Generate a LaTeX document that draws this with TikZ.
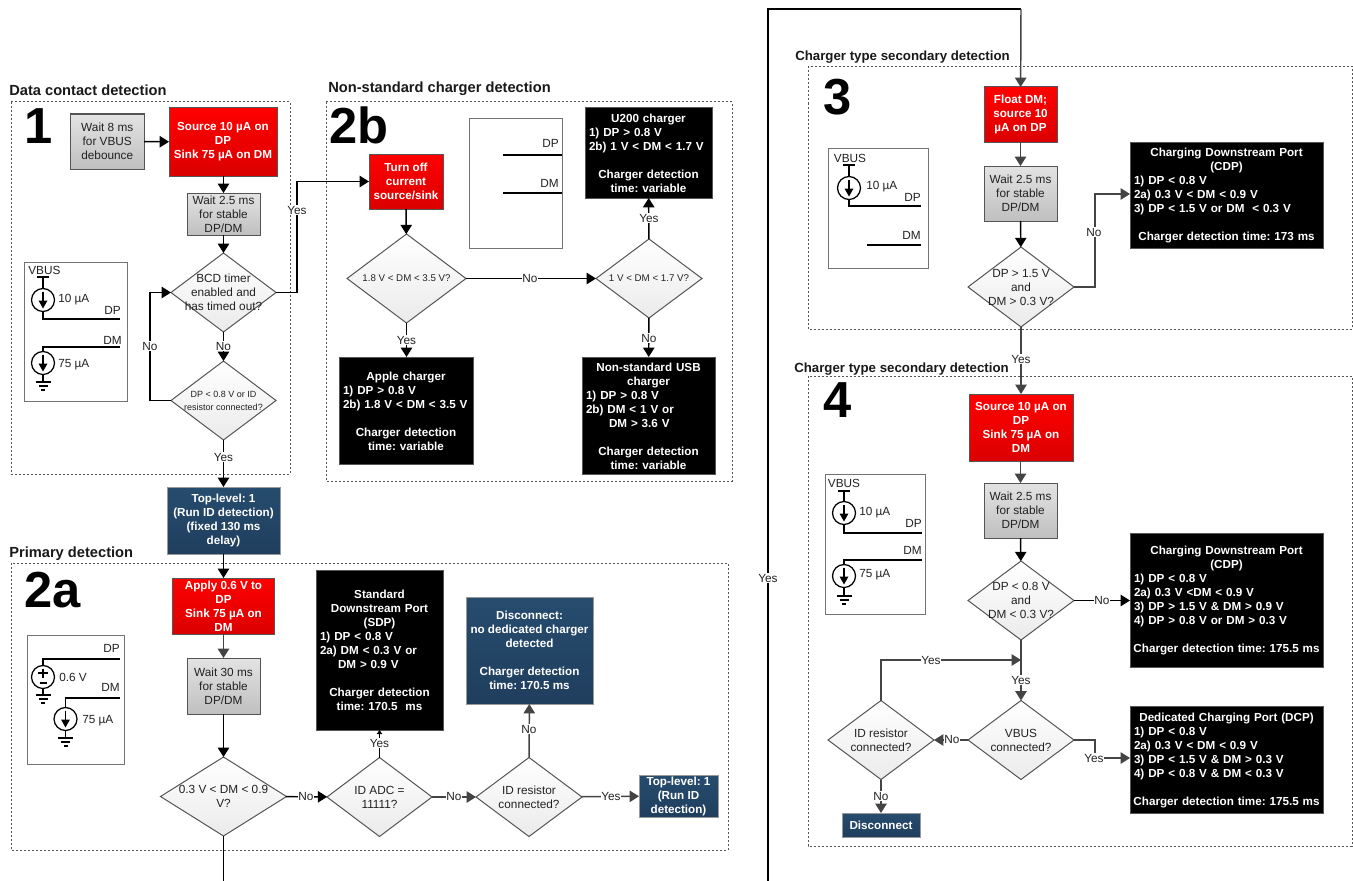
\documentclass[tikz,border=0pt]{standalone}
\usepackage{fontspec}
\setmainfont{Liberation Sans}
\usetikzlibrary{arrows.meta,shapes.geometric}
\definecolor{edge}{HTML}{555555}
\definecolor{ink}{HTML}{222222}
\definecolor{lineg}{HTML}{444444}
\newcommand\cc[1]{\par\hbox to\hsize{\hss#1\hss}}
\newcommand\lf[1]{\par\hbox to\hsize{#1\hss}}
\newcommand\gap{\par\vskip 10.5pt}
% box given by its corners in reference pixels
\newcommand\bx[7][]{\node[#1,minimum width={(#5-#3)*0.75pt},minimum height={(#6-#4)*0.75pt}] (#2) at ({(#3+#5)/2},{(#4+#6)/2}) {#7};}
% diamond with free-standing centred text
\newcommand\dia[7]{\node[dec,minimum width={#4*0.75pt},minimum height={#5*0.75pt},label={[dlab,name=#1t,#6]center:#7}] (#1) at (#2,#3) {};}
\newcommand\isrc[2]{\draw[wire,fill=white] (#1,#2) circle[radius=11.5];\draw[wire,-{Triangle[length=6pt,width=6.5pt]}] (#1,#2-8.5) -- (#1,#2+8.5);}
\newcommand\gnd[2]{\draw[wire] (#1-7.5,#2) -- (#1+7.5,#2) (#1-4.5,#2+4) -- (#1+4.5,#2+4) (#1-2,#2+8) -- (#1+2,#2+8);}
\tikzset{
 x=0.75pt,y=-0.75pt,
 base/.style={inner sep=0pt,outer sep=0pt,align=center,font=\fontsize{8.85pt}{10.5pt}\selectfont},
 redbox/.style={base,draw=edge,line width=0.75pt,top color=red,bottom color=red!86!black,text=white,font=\fontsize{8.75pt}{10.5pt}\selectfont\bfseries},
 greybox/.style={base,draw=edge,line width=0.75pt,top color=black!11,bottom color=black!25,text=ink},
 bluebox/.style={base,draw=edge!60,line width=0.75pt,top color={rgb,255:red,38;green,76;blue,110},bottom color={rgb,255:red,32;green,62;blue,94},text=white,font=\fontsize{8.75pt}{10.5pt}\selectfont\bfseries},
 blackbox/.style={base,draw=edge,line width=0.75pt,fill=black,text=white,align=left,font=\fontsize{8.75pt}{10.5pt}\selectfont\bfseries,execute at end node={\par\nointerlineskip\hrule height 3pt width 0pt}},
 dec/.style={shape=diamond,inner sep=0pt,outer sep=0pt,draw=edge,line width=0.75pt,top color=white,bottom color=black!8},
 dlab/.style={inner sep=0pt,outer sep=0pt,align=center,text=ink,font=\fontsize{8.85pt}{10.5pt}\selectfont},
 dsmall/.style={font=\fontsize{6.75pt}{9.7pt}\selectfont},
 dmid/.style={font=\fontsize{7.3pt}{9pt}\selectfont},
 frame/.style={draw=edge,line width=0.75pt,dash pattern=on 1.5pt off 1.5pt},
 panel/.style={draw=black!55,line width=0.75pt,fill=white},
 wire/.style={draw=black,line width=0.95pt},
 conn/.style={draw=black,line width=1.1pt,-{Triangle[length=7pt,width=8.5pt]}},
 conng/.style={draw=lineg,line width=1.1pt,-{Triangle[length=7pt,width=8.5pt]}},
 plain/.style={draw=black,line width=1.1pt},
 elab/.style={inner sep=0.6pt,fill=white,text=ink,font=\fontsize{8.85pt}{10.5pt}\selectfont},
 ttl/.style={anchor=west,inner sep=0pt,text=black!90,font=\fontsize{11pt}{12pt}\selectfont\bfseries},
 ttlb/.style={ttl,font=\fontsize{9.95pt}{12pt}\selectfont\bfseries},
 big/.style={anchor=west,inner sep=0pt,font=\fontsize{38pt}{40pt}\selectfont\bfseries},
 ctext/.style={inner sep=0pt,text=ink,font=\fontsize{8.85pt}{10.5pt}\selectfont},
 cl/.style={ctext,anchor=west},
 cr/.style={ctext,anchor=east},
}
\begin{document}
\frenchspacing
\begin{tikzpicture}
\useasboundingbox (0,0) rectangle (1353,881);
\fill[white] (0,0) rectangle (1353,881);
% frames
\draw[frame] (11,102) rectangle (290,474);
\draw[frame] (326,102) rectangle (732,481);
\draw[frame] (11,563) rectangle (728,850);
\draw[frame] (808,66.5) rectangle (1352,329);
\draw[frame] (808,376) rectangle (1352,846);
% titles
\node[ttl] (t1) at (9,90) {Data contact detection};
\node[ttl] (t2b) at (328,89) {Non-standard charger detection};
\node[ttl] (t2a) at (9,554) {Primary detection};
\node[ttlb] (t3) at (795,57) {Charger type secondary detection};
\node[ttlb] (t4) at (794,369) {Charger type secondary detection};
\node[big] (n1) at (24,126) {1};
\node[big] (n2a) at (24,590) {2a};
\node[big] (n2b) at (329,125) {2b};
\node[big] (n3) at (823,97) {3};
\node[big] (n4) at (823,400) {4};
% section 1
\bx[greybox]{w8}{70.5}{114}{144}{169}{Wait 8 ms\\for VBUS\\debounce}
\bx[redbox]{src1}{169}{108}{277}{176}{Source 10 µA on\\DP\\Sink 75 µA on DM}
\bx[greybox]{w1}{187}{193}{260}{235}{Wait 2.5 ms\\for stable\\DP/DM}
\dia{d1}{223.5}{292.5}{105}{79}{}{BCD timer\\enabled and\\has timed out?}
\dia{d2}{223.5}{400.5}{105}{79}{dsmall}{DP < 0.8 V or ID\\resistor connected?}
\bx[bluebox]{top1}{167}{487}{280}{554}{Top-level: 1\\(Run ID detection)\\(fixed 130 ms\\delay)}
% section 2a
\bx[redbox]{app}{172.5}{578}{274.5}{634}{Apply 0.6 V to\\DP\\Sink 75 µA on\\DM}
\bx[greybox]{w30}{187}{658}{260}{714}{Wait 30 ms\\for stable\\DP/DM}
\dia{d03}{223.5}{796.5}{126}{79}{}{0.3 V < DM < 0.9\\V?}
\bx[blackbox,text width=89.25pt]{sdp}{316}{570}{443}{730}{\cc{Standard}\cc{Downstream Port}\cc{(SDP)}\lf{1) DP < 0.8 V}\lf{2a) DM < 0.3 V or}\lf{\hspace{13.5pt}DM > 0.9 V}\gap\cc{Charger detection}\cc{time: 170.5~~ms}}
\dia{adc}{379.5}{797}{105}{79}{}{ID ADC =\\11111?}
\dia{res}{529}{797}{106}{79}{}{ID resistor\\connected?}
\bx[bluebox]{disc}{466}{597}{593}{704}{Disconnect:\\no dedicated charger\\detected\\[10.5pt]Charger detection\\time: 170.5 ms}
\bx[bluebox]{tl2}{639}{775}{718}{817}{Top-level: 1\\(Run ID\\detection)}
% section 2b
\bx[redbox]{off}{369}{154}{443}{209}{Turn off\\current\\source/sink}
\dia{d18}{406.5}{278.5}{119}{89}{dmid}{1.8 V < DM < 3.5 V?}
\dia{d1v}{649}{278.5}{106}{79}{dmid}{1 V < DM < 1.7 V?}
\bx[blackbox,text width=89.25pt]{u200}{585}{108}{712}{198}{\cc{U200 charger}\lf{1) DP > 0.8 V}\lf{2b) 1 V < DM < 1.7 V}\gap\cc{Charger detection}\cc{time: variable}}
\bx[blackbox,text width=94.5pt]{apple}{339}{357}{473}{464}{\cc{Apple charger}\lf{1) DP > 0.8 V}\lf{2b) 1.8 V < DM < 3.5 V}\gap\cc{Charger detection}\cc{time: variable}}
\bx[blackbox,text width=93.75pt]{nstd}{582}{357}{715}{474}{\cc{Non-standard USB}\cc{charger}\lf{1) DP > 0.8 V}\lf{2b) DM < 1 V or}\lf{\hspace{17.25pt}DM > 3.6 V}\gap\cc{Charger detection}\cc{time: variable}}
% section 3
\bx[redbox]{flt}{984}{87}{1057}{142}{Float DM;\\source 10\\µA on DP}
\bx[greybox]{w3}{984}{166}{1057}{221}{Wait 2.5 ms\\for stable\\DP/DM}
\dia{d3}{1021}{287}{106}{80}{}{DP > 1.5 V\\and\\DM > 0.3 V?}
\bx[blackbox,text width=138.75pt]{cdp1}{1130}{142}{1323}{248}{\cc{Charging Downstream Port}\cc{(CDP)}\lf{1) DP < 0.8 V}\lf{2a) 0.3 V < DM < 0.9 V}\lf{3) DP < 1.5 V or DM~~< 0.3 V}\gap\cc{Charger detection time: 173 ms}}
% section 4
\bx[redbox]{src4}{969}{394}{1073}{461}{Source 10 µA on\\DP\\Sink 75 µA on\\DM}
\bx[greybox]{w4}{984}{483}{1057}{538}{Wait 2.5 ms\\for stable\\DP/DM}
\dia{d4}{1021}{600.5}{106}{79}{}{DP < 0.8 V\\and\\DM < 0.3 V?}
\bx[blackbox,text width=138.75pt]{cdp2}{1130}{533}{1323}{667}{\cc{Charging Downstream Port}\cc{(CDP)}\lf{1) DP < 0.8 V}\lf{2a) 0.3 V <DM < 0.9 V}\lf{3) DP > 1.5 V \& DM > 0.9 V}\lf{4) DP > 0.8 V or DM > 0.3 V}\gap\cc{Charger detection time: 175.5 ms}}
\dia{vb}{1021}{740}{106}{79}{}{VBUS\\connected?}
\dia{idr}{881}{740}{106}{79}{}{ID resistor\\connected?}
\bx[bluebox]{dis2}{842}{813}{920}{837}{Disconnect}
\bx[blackbox,text width=138.75pt]{dcp}{1130}{706}{1323}{813}{\cc{Dedicated Charging Port (DCP)}\lf{1) DP < 0.8 V}\lf{2a) 0.3 V < DM < 0.9 V}\lf{3) DP < 1.5 V \& DM > 0.3 V}\lf{4) DP < 0.8 V \& DM < 0.3 V}\gap\cc{Charger detection time: 175.5 ms}}
% free ends
\coordinate (b1) at (223.5,881);
\coordinate (b2) at (768,881);
\coordinate (c3) at (1021,9);
\coordinate (j4) at (1021,660);
% connectors
\draw[conn] (w8) -- (src1);
\draw[conn] (src1.south -| w1.north) -- (w1);
\draw[conn] (w1) -- (d1);
\draw[conn] (d1) -- (d2);
\draw[conn] (d2.west) -- ++(-21,0) |- (d1.west);
\draw[conn] (d1.east) -- ++(21,0) |- (off.west);
\draw[conn] (d2) -- (top1);
\draw[conn] (top1.south -| app.north) -- (app);
\draw[conng] (app) -- (w30);
\draw[conn] (w30) -- (d03);
\draw[plain] (d03.south) -- (b1);
\draw[conn] (d03) -- (adc);
\draw[conng] (adc) -- (res);
\draw[conng] (res) -- (tl2);
\draw[draw=black,line width=1.1pt,-{Triangle[length=3pt,width=4pt]}] (adc) -- (sdp);
\draw[conng] (res) -- (disc);
\draw[conn] (off) -- (d18);
\draw[conn] (d18) -- (d1v);
\draw[conn] (d18) -- (apple.north -| d18.south);
\draw[conn] (d1v) -- (u200);
\draw[conn] (d1v) -- (nstd);
\draw[plain] (b2) |- (c3);
\draw[conng] (c3) -- (flt);
\draw[conng] (flt) -- (w3);
\draw[conn] (w3) -- (d3);
\draw[conng] (d3.east) -- ++(21,0) |- (cdp1.west |- 0,194);
\draw[conng] (d3.south) -- (src4.north -| d3.south);
\draw[conng] (src4.south -| w4.north) -- (w4);
\draw[conn] (w4) -- (d4);
\draw[conn] (d4) -- (d4 -| cdp2.west);
\draw[conng] (d4) -- (vb);
\draw[conng] (idr.north) |- (j4);
\draw[conng] (vb) -- (idr);
\draw[conng] (vb.east) -- ++(21,0) |- (dcp.west |- 0,758);
\draw[conng] (idr) -- (dis2);
% connector labels
\node[elab] (l1) at (297,210) {Yes};
\node[elab] (l2) at (150,346) {No};
\node[elab] (l3) at (223.5,346) {No};
\node[elab] (l4) at (223.5,457) {Yes};
\node[elab] (l5) at (306,796.5) {No};
\node[elab] (l6) at (454,796.5) {No};
\node[elab] (l7) at (611,796.5) {Yes};
\node[elab] (l8) at (379.5,743) {Yes};
\node[elab] (l9) at (529,729) {No};
\node[elab] (l10) at (406.5,340) {Yes};
\node[elab] (l11) at (530,278.5) {No};
\node[elab] (l12) at (649,218) {Yes};
\node[elab] (l13) at (649,338) {No};
\node[elab] (l14) at (768,578) {Yes};
\node[elab] (l15) at (1094,232) {No};
\node[elab] (l16) at (1021,359) {Yes};
\node[elab] (l17) at (1102,600.5) {No};
\node[elab] (l18) at (1021,680) {Yes};
\node[elab] (l19) at (931,660) {Yes};
\node[elab] (l20) at (952,739.5) {No};
\node[elab] (l21) at (1094,758) {Yes};
\node[elab] (l22) at (881,796) {No};
% circuit panel 1
\draw[panel] (24,262) rectangle (127,401);
\node[cl] (p1a) at (28,270) {VBUS};
\draw[wire] (37,277) -- (49,277) (43,277) -- (43,288.5);
\isrc{43}{300}
\draw[wire] (43,311.5) |- (120,319);
\node[cl] (p1b) at (58,300) {10 µA};
\node[cr] (p1c) at (121,310) {DP};
\node[cr] (p1d) at (122,340) {DM};
\draw[wire] (120,347) -| (43,351.5);
\isrc{43}{363}
\draw[wire] (43,374.5) -- (43,382);
\gnd{43}{382}
\node[cl] (p1e) at (58,365) {75 µA};
% circuit panel 2a
\draw[panel] (27,635) rectangle (124,764);
\node[cr] (p2a) at (120,648) {DP};
\draw[wire] (120,659) -| (43,665.5);
\draw[wire] (43,677) circle[radius=11.5];
\draw[wire,line width=1.3pt] (38,673) -- (48,673) (43,668.5) -- (43,677.5) (39.5,683) -- (46.5,683);
\draw[wire] (43,688.5) -- (43,695);
\gnd{43}{695}
\node[cl] (p2b) at (59,677) {0.6 V};
\node[cr] (p2c) at (120,687) {DM};
\draw[wire] (120,698) -| (65.5,707.5);
\isrc{65.5}{719}
\draw[wire] (65.5,730.5) -- (65.5,738);
\gnd{65.5}{738}
\node[cl] (p2d) at (82,721) {75 µA};
% circuit panel 2b
\draw[panel] (469,118) rectangle (562,248);
\node[cr] (p3a) at (559,143) {DP};
\draw[wire] (503,155) -- (562,155);
\node[cr] (p3b) at (559,183) {DM};
\draw[wire] (503,193) -- (562,193);
% circuit panel 3
\draw[panel] (828,148) rectangle (928,268);
\node[ctext] (p4a) at (850,158) {VBUS};
\draw[wire] (843,165) -- (855,165) (849,165) -- (849,176.5);
\isrc{849}{188}
\draw[wire] (849,199.5) |- (921,206);
\node[cl] (p4b) at (866,187) {10 µA};
\node[cr] (p4c) at (921,197) {DP};
\node[cr] (p4d) at (921,235) {DM};
\draw[wire] (867,245) -- (921,245);
% circuit panel 4
\draw[panel] (825,474) rectangle (925,614);
\node[ctext] (p5a) at (844,483) {VBUS};
\draw[wire] (838,491) -- (850,491) (844,491) -- (844,501.5);
\isrc{844}{513}
\draw[wire] (844,524.5) |- (922,533);
\node[cl] (p5b) at (859,513) {10 µA};
\node[cr] (p5c) at (922,523) {DP};
\node[cr] (p5d) at (922,550) {DM};
\draw[wire] (922,560) -| (844,564.5);
\isrc{844}{576}
\draw[wire] (844,587.5) -- (844,596);
\gnd{844}{596}
\node[cl] (p5e) at (859,575) {75 µA};
\end{tikzpicture}
\end{document}
